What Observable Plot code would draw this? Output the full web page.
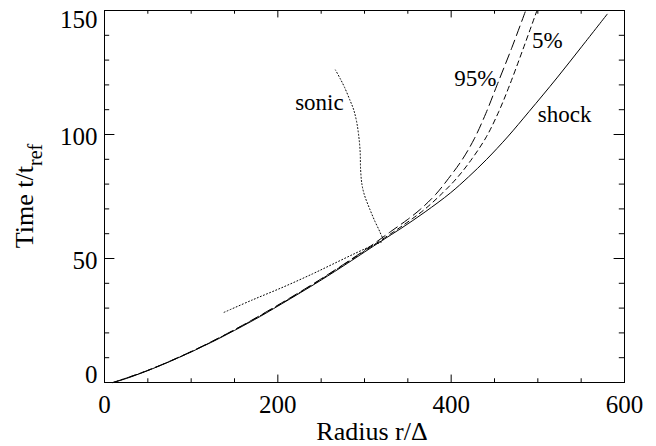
<!DOCTYPE html>
<html>
<head>
<meta charset="utf-8">
<script src="https://cdn.jsdelivr.net/npm/d3@7"></script>
<script src="https://cdn.jsdelivr.net/npm/@observablehq/plot@0.6"></script>
<style>
  body { margin: 0; background: #fff; }
  #chart svg { display: block; }
  #chart svg text { font-family: "Liberation Serif", "Times New Roman", Times, serif; }
</style>
</head>
<body>
<div id="chart"></div>
<script>
// Shock front radius vs time (solid)
const shockR = [10, 25, 50, 75, 100, 125, 150, 180, 200, 226, 250, 280, 300, 320, 342, 370, 399, 420, 441, 465, 490, 522, 551, 580];
const shockT = [0, 1.6, 4.8, 8.4, 12.3, 16.5, 21, 26.7, 30.8, 36.2, 41.3, 48, 52.6, 57.2, 62.1, 68.8, 76.4, 82.9, 90, 99, 109.3, 122.8, 135.6, 148.5];

// 95% mass radius (long dashes)
const p95R = [10, 50, 100, 150, 200, 250, 300, 330, 350, 365, 382, 397, 413, 427, 440, 453, 470, 486];
const p95T = [0, 4.9, 12.5, 21.3, 31.2, 41.8, 53.3, 60.8, 65.8, 70, 75.8, 82.3, 90, 98.5, 108.5, 120, 135, 150];

// 5% mass radius (short dashes)
const p5R = [10, 50, 100, 150, 200, 250, 300, 338, 355, 370, 390, 407, 424, 441, 455, 467, 483, 499];
const p5T = [0, 4.9, 12.4, 21.2, 31.0, 41.6, 53.0, 61.8, 66, 70, 76.4, 82.6, 90.2, 99.3, 109.3, 119.5, 134.5, 150];

// Sonic point track (dotted), in time order along the path
const sonicR = [138, 170, 207, 240, 265, 290, 310, 321, 318, 312, 306, 300, 297, 295.5, 295, 293.5, 291, 287.5, 283, 277, 272, 266.5];
const sonicT = [28.3, 33.2, 38.6, 43.8, 48, 52.2, 55.4, 57.2, 60.5, 65, 70, 75.5, 80, 86, 93, 99, 105, 110, 114, 119, 122.5, 126];

// Curve annotations
const labelText = ["sonic", "shock", "95%", "5%"];
const labelR = [248, 531, 428, 511];
const labelT = [109.7, 105.2, 119.4, 135];

// Axis ticks
const xMajor = [0, 200, 400, 600];
const xMinor = [50, 100, 150, 250, 300, 350, 450, 500, 550];
const yMajor = [0, 50, 100, 150];
const yMinor = [10, 20, 30, 40, 60, 70, 80, 90, 110, 120, 130, 140];

const rows = (R, T) => R.map((r, i) => ({r, t: T[i]}));

const W = 656, H = 446;
const mL = 104, mR = 32, mT = 10, mB = 64;
const innerW = W - mL - mR, innerH = H - mT - mB;
// tick lengths: 2% of the opposite plot dimension, minors half
const xTickLen = 0.02 * innerH, yTickLen = 0.02 * innerW;

const serif = "'Liberation Serif', 'Times New Roman', Times, serif";
const tickText = {tickSize: 0, fontSize: 25, fontFamily: serif, fill: "#000", label: null};

const svg = Plot.plot({
  width: W,
  height: H,
  marginLeft: mL,
  marginRight: mR,
  marginTop: mT,
  marginBottom: mB,
  style: {fontFamily: serif, background: "#fff", color: "#000"},
  x: {domain: [0, 600], axis: null},
  y: {domain: [0, 150], axis: null},
  marks: [
    Plot.frame({stroke: "#000", strokeWidth: 1}),
    // inward ticks on all four sides
    Plot.tickX(xMajor, {x: d => d, insetTop: innerH - xTickLen, stroke: "#000"}),
    Plot.tickX(xMajor, {x: d => d, insetBottom: innerH - xTickLen, stroke: "#000"}),
    Plot.tickX(xMinor, {x: d => d, insetTop: innerH - xTickLen / 2, stroke: "#000"}),
    Plot.tickX(xMinor, {x: d => d, insetBottom: innerH - xTickLen / 2, stroke: "#000"}),
    Plot.tickY(yMajor, {y: d => d, insetRight: innerW - yTickLen, stroke: "#000"}),
    Plot.tickY(yMajor, {y: d => d, insetLeft: innerW - yTickLen, stroke: "#000"}),
    Plot.tickY(yMinor, {y: d => d, insetRight: innerW - yTickLen / 2, stroke: "#000"}),
    Plot.tickY(yMinor, {y: d => d, insetLeft: innerW - yTickLen / 2, stroke: "#000"}),
    // tick labels
    Plot.axisX({...tickText, ticks: xMajor, tickPadding: 13}),
    Plot.axisY({...tickText, ticks: [50, 100], tickPadding: 7, dy: 2}),
    Plot.axisY({...tickText, ticks: [0], tickPadding: 7, dy: -8}),
    Plot.axisY({...tickText, ticks: [150], tickPadding: 7, dy: 9}),
    // curves
    Plot.line(rows(shockR, shockT), {x: "r", y: "t", stroke: "#000", strokeWidth: 1, curve: "catmull-rom"}),
    Plot.line(rows(p95R, p95T), {x: "r", y: "t", stroke: "#000", strokeWidth: 1, strokeDasharray: "10,5", curve: "catmull-rom"}),
    Plot.line(rows(p5R, p5T), {x: "r", y: "t", stroke: "#000", strokeWidth: 1, strokeDasharray: "5,4", curve: "catmull-rom"}),
    Plot.line(rows(sonicR, sonicT), {x: "r", y: "t", stroke: "#000", strokeWidth: 1, strokeDasharray: "1,2.3", curve: "catmull-rom"}),
    // annotations
    Plot.text(labelText.map((s, i) => ({s, r: labelR[i], t: labelT[i]})), {
      x: "r", y: "t", text: "s", fontSize: 23, fontFamily: serif,
      lineAnchor: "bottom", textAnchor: "middle", fill: "#000"
    })
  ]
});

// axis titles
const root = d3.select(svg);
root.append("text")
  .attr("x", 372).attr("y", 440)
  .attr("text-anchor", "middle")
  .attr("font-size", 26).attr("fill", "#000")
  .text("Radius r/\u0394");

const yt = root.append("text")
  .attr("transform", "translate(33,196) rotate(-90)")
  .attr("text-anchor", "middle")
  .attr("font-size", 26).attr("fill", "#000");
yt.append("tspan").text("Time t/t");
yt.append("tspan").attr("dy", 9).attr("font-size", 20).text("ref");

document.getElementById("chart").appendChild(svg);
</script>
</body>
</html>
